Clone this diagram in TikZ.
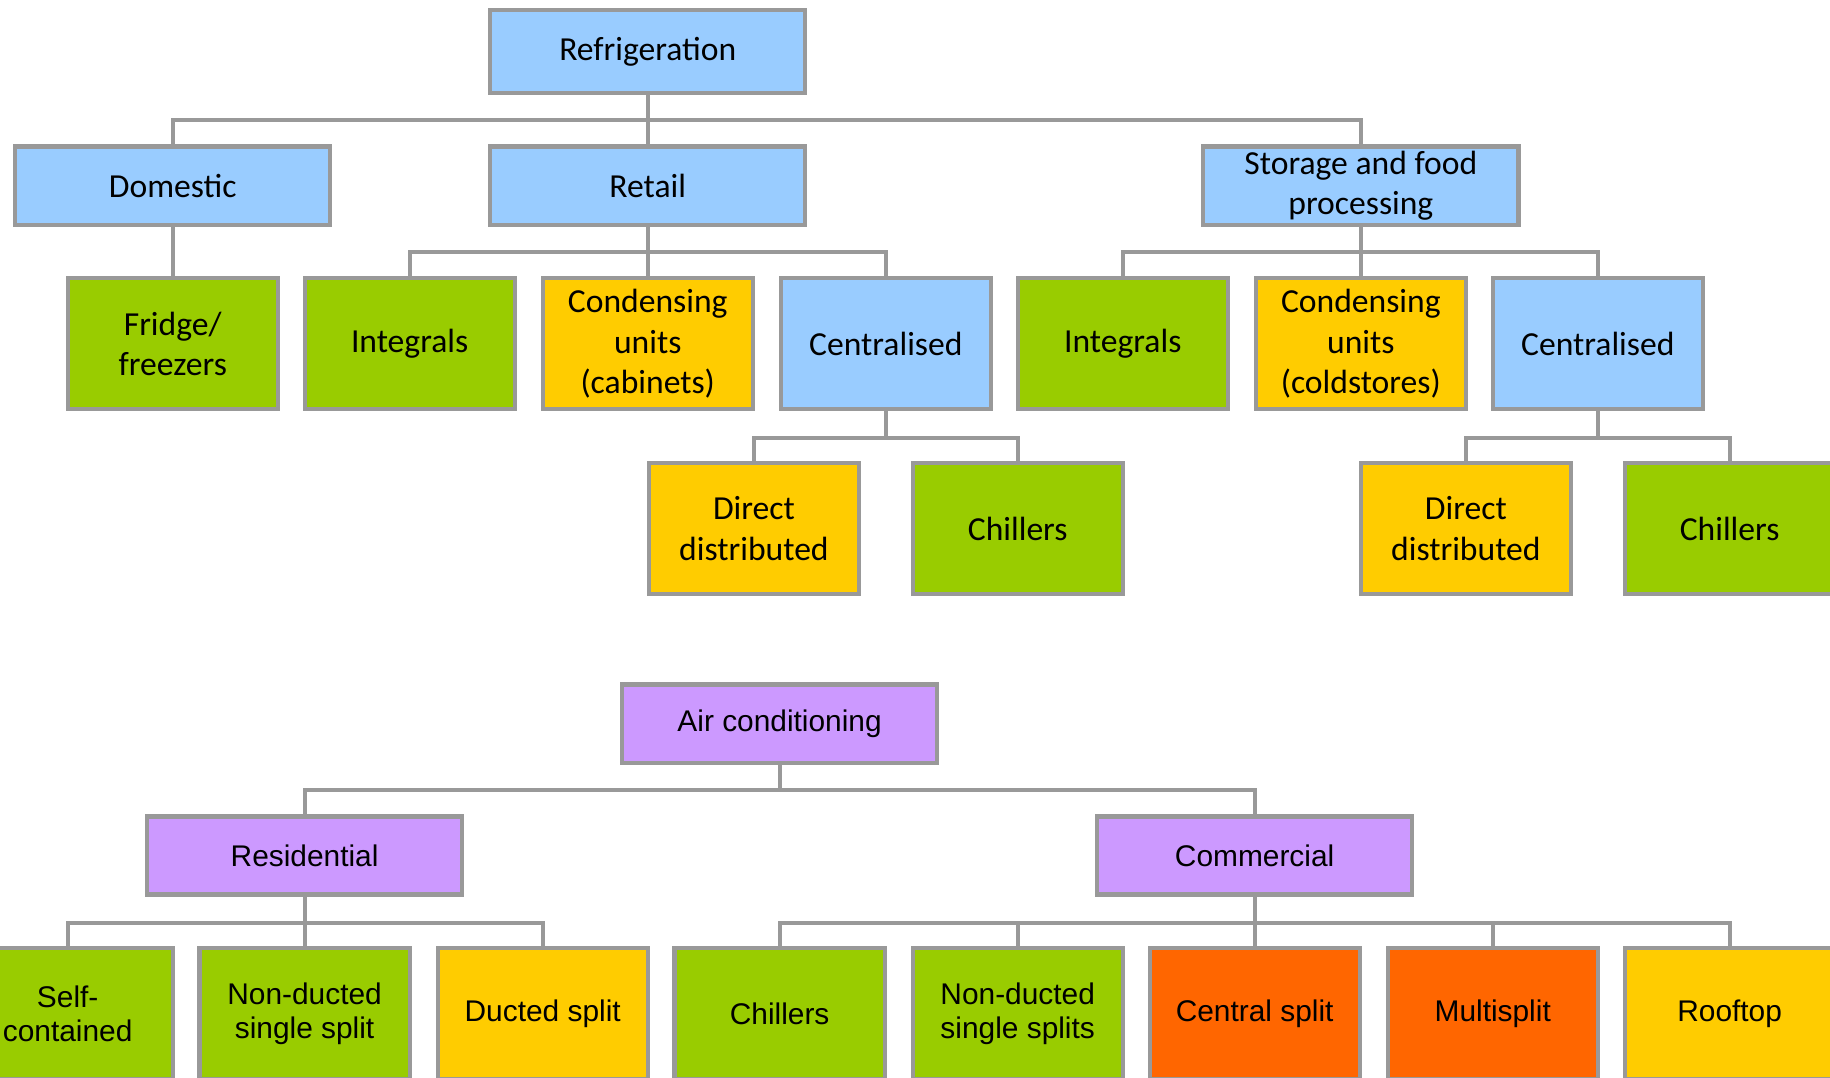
\documentclass[tikz,border=0pt]{standalone}
\usepackage{fontspec}
\newfontfamily\topfont{Carlito}
\newfontfamily\botfont{Liberation Sans}
\definecolor{cblue}{HTML}{99CCFF}
\definecolor{cgreen}{HTML}{99CC00}
\definecolor{cyellow}{HTML}{FFCC00}
\definecolor{cpurple}{HTML}{CC99FF}
\definecolor{corange}{HTML}{FF6600}
\definecolor{cgray}{HTML}{999999}
\tikzset{
  box/.style={draw=cgray, line width=1.8pt, rectangle, align=center, inner sep=0pt, text=black},
  topbox/.style={box, font=\topfont\fontsize{14.4}{17.3}\selectfont},
  botbox/.style={box, font=\botfont\fontsize{12.8}{14.7}\selectfont},
  head/.style={minimum width=135pt, minimum height=33.5pt},
  leaf/.style={minimum width=90pt, minimum height=56pt},
  link/.style={draw=cgray, line width=1.7pt},
}
\begin{document}
\begin{tikzpicture}[x=0.5pt,y=-0.5pt]
\useasboundingbox (0,0) rectangle (1568,923);
\clip (0,0) rectangle (1568,923);
\fill[white] (0,0) rectangle (1568,923);
% bus levels
\coordinate (b1) at (0,103);
\coordinate (b2) at (0,216);
\coordinate (b3) at (0,375);
\coordinate (b4) at (0,677);
\coordinate (b5) at (0,791);
% Refrigeration tree
\node[topbox, head, fill=cblue, minimum height=35.5pt] (ref) at (555,44) {Refrigeration};
\node[topbox, head, fill=cblue] (dom) at (148,159) {Domestic};
\node[topbox, head, fill=cblue] (ret) at (555,159) {Retail};
\node[topbox, head, fill=cblue] (sto) at (1166,159) {Storage and food\\processing};
\node[topbox, leaf, fill=cgreen] (fri) at (148,294.5) {Fridge/\\freezers};
\node[topbox, leaf, fill=cgreen] (int1) at (351,294.5) {Integrals};
\node[topbox, leaf, fill=cyellow] (con1) at (555,294.5) {Condensing\\units\\(cabinets)};
\node[topbox, leaf, fill=cblue] (cen1) at (759,294.5) {Centralised};
\node[topbox, leaf, fill=cgreen] (int2) at (962,294.5) {Integrals};
\node[topbox, leaf, fill=cyellow] (con2) at (1166,294.5) {Condensing\\units\\(coldstores)};
\node[topbox, leaf, fill=cblue] (cen2) at (1369,294.5) {Centralised};
\node[topbox, leaf, fill=cyellow] (dir1) at (646,453) {Direct\\distributed};
\node[topbox, leaf, fill=cgreen] (chi1) at (872,453) {Chillers};
\node[topbox, leaf, fill=cyellow] (dir2) at (1256,453) {Direct\\distributed};
\node[topbox, leaf, fill=cgreen] (chi2) at (1482,453) {Chillers};
% Air conditioning tree
\node[botbox, head, fill=cpurple] (air) at (668,620) {Air conditioning};
\node[botbox, head, fill=cpurple] (res) at (261,733) {Residential};
\node[botbox, head, fill=cpurple] (com) at (1075,733) {Commercial};
\node[botbox, leaf, fill=cgreen] (sel) at (58,868.5) {Self-\\contained};
\node[botbox, leaf, fill=cgreen] (nds) at (261,868.5) {Non-ducted\\single split};
\node[botbox, leaf, fill=cyellow] (duc) at (465,868.5) {Ducted split};
\node[botbox, leaf, fill=cgreen] (chi3) at (668,868.5) {Chillers};
\node[botbox, leaf, fill=cgreen] (ndss) at (872,868.5) {Non-ducted\\single splits};
\node[botbox, leaf, fill=corange] (csp) at (1075,868.5) {Central split};
\node[botbox, leaf, fill=corange] (mul) at (1279,868.5) {Multisplit};
\node[botbox, leaf, fill=cyellow] (roo) at (1482,868.5) {Rooftop};
% connectors
\foreach \p/\b/\c in {ref/b1/dom, ref/b1/ret, ref/b1/sto,
                      ret/b2/int1, ret/b2/con1, ret/b2/cen1,
                      sto/b2/int2, sto/b2/con2, sto/b2/cen2,
                      cen1/b3/dir1, cen1/b3/chi1,
                      cen2/b3/dir2, cen2/b3/chi2,
                      air/b4/res, air/b4/com,
                      res/b5/sel, res/b5/nds, res/b5/duc,
                      com/b5/chi3, com/b5/ndss, com/b5/csp, com/b5/mul, com/b5/roo}
  \draw[link] (\p.south) -- (\p.south |- \b) -| (\c.north);
\draw[link] (dom.south) -- (fri.north);
\end{tikzpicture}
\end{document}
